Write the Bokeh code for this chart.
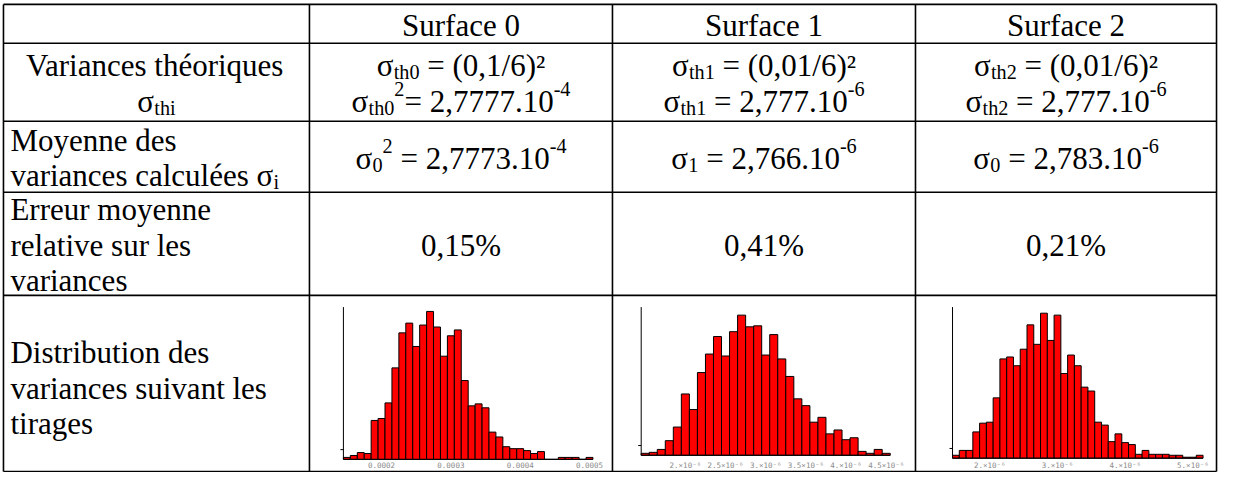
from bokeh.plotting import figure
from bokeh.models import Range1d, ColumnDataSource
from bokeh.core.properties import value, field
from bokeh.embed import file_html
from bokeh.resources import INLINE

# ---------------- data ----------------
col_headers = ["Surface 0", "Surface 1", "Surface 2"]
theo_label = ["Variances théoriques"]
mean_label = ["Moyenne des", "variances calculées "]
err_label = ["Erreur moyenne", "relative sur les", "variances"]
dist_label = ["Distribution des", "variances suivant les", "tirages"]

theo_sub = ["th0", "th1", "th2"]
theo_formula = ["(0,1/6)²", "(0,01/6)²", "(0,01/6)²"]
theo_mant = ["2,7777", "2,777", "2,777"]
theo_exp = ["-4", "-6", "-6"]
theo_squared = [True, False, False]

mean_sub = ["0", "1", "0"]
mean_mant = ["2,7773", "2,766", "2,783"]
mean_exp = ["-4", "-6", "-6"]
mean_squared = [True, False, False]

err_values = ["0,15%", "0,41%", "0,21%"]

# histograms: first bin centre, bin width, counts
h1_first, h1_width = 1.5e-4, 1e-5
h1_counts = [2, 4, 7, 6, 40, 42, 58, 94, 130, 140, 116, 138, 152, 136, 106, 127, 133, 81, 55,
             57, 53, 28, 23, 13, 11, 11, 9, 6, 8, 0, 0, 2, 2, 2, 0, 2]
h1_ticks = [0.0002, 0.0003, 0.0004, 0.0005]
h1_tick_labels = ["0.0002", "0.0003", "0.0004", "0.0005"]

h2_first, h2_width = 1.5e-6, 1e-7
h2_counts = [2, 3, 6, 15, 29, 63, 47, 85, 104, 122, 102, 127, 144, 132, 133, 103, 124, 99, 81,
             58, 51, 34, 39, 22, 26, 16, 18, 4, 2, 6, 2]
h2_ticks = [2e-6, 2.5e-6, 3e-6, 3.5e-6, 4e-6, 4.5e-6]
h2_tick_labels = ["2.×10⁻⁶", "2.5×10⁻⁶", "3.×10⁻⁶", "3.5×10⁻⁶", "4.×10⁻⁶", "4.5×10⁻⁶"]

h3_first, h3_width = 1.5e-6, 1e-7
h3_counts = [3, 8, 8, 27, 36, 37, 62, 102, 104, 95, 112, 137, 117, 149, 121, 147, 87, 106, 95,
             73, 69, 37, 34, 17, 25, 16, 14, 4, 8, 4, 4, 4, 3, 3, 1, 1, 3]
h3_ticks = [2e-6, 3e-6, 4e-6, 5e-6]
h3_tick_labels = ["2.×10⁻⁶", "3.×10⁻⁶", "4.×10⁻⁶", "5.×10⁻⁶"]

# ---------------- layout (reference pixel space) ----------------
W, H = 1218, 472
X0, X1 = 4.0, 1234.0
YT, YB = 3.0, 488.0
SX = W / (X1 - X0)
SY = H / (YB - YT)

col_x = [7, 316, 622, 928, 1232]
row_y = [7, 47, 127, 200, 306, 487]

FS = 31.0
LH = 35.5
SUBF = 0.65
SUBDY = 6.5
SUPDY = -12.0
BASE_FIX = -9.0
FONT = "Liberation Serif"

TNR = {' ': 250, '(': 333, ')': 333, ',': 250, '.': 250, '/': 278, '=': 564, '²': 300, '-': 333,
       '%': 833, 'σ': 550, 'a': 444, 'b': 500, 'c': 444, 'd': 500, 'e': 444, 'é': 444, 'f': 333,
       'g': 500, 'h': 500, 'i': 278, 'j': 278, 'k': 500, 'l': 278, 'm': 778, 'n': 500, 'o': 500,
       'p': 500, 'q': 500, 'r': 333, 's': 389, 't': 278, 'u': 500, 'v': 500, 'w': 722, 'x': 500,
       'y': 500, 'z': 444, 'S': 556, 'V': 722, 'M': 889, 'E': 611, 'D': 722}

p = figure(width=W, height=H, x_range=Range1d(X0, X1), y_range=Range1d(YB, YT),
           output_backend="svg", toolbar_location=None, min_border=0,
           x_axis_location=None, y_axis_location=None)
p.grid.visible = False
p.outline_line_color = None
p.background_fill_color = "white"
p.border_fill_color = "white"

# table lines
sx0, sy0, sx1, sy1 = [], [], [], []
for y in row_y:
    sx0.append(col_x[0]); sx1.append(col_x[-1]); sy0.append(y); sy1.append(y)
for x in col_x:
    sx0.append(x); sx1.append(x); sy0.append(row_y[0]); sy1.append(row_y[-1])
p.segment(x0=sx0, y0=sy0, x1=sx1, y1=sy1, line_color="black", line_width=1.6)

T = dict(x=[], y=[], text=[], size=[])


def tw(t, fs):
    return sum(TNR.get(c, 500) for c in t) / 1000.0 * fs


def put(runs, x, y, align="center"):
    w = sum(tw(t, FS if k == "n" else FS * SUBF) for t, k in runs) / SX
    if align == "center":
        x = x - w / 2
    for t, k in runs:
        fs = FS if k == "n" else FS * SUBF
        dy = 0 if k == "n" else (SUBDY if k == "sub" else SUPDY)
        stripped = t.lstrip(" ")
        x += tw(t[:len(t) - len(stripped)], fs) / SX
        T["x"].append(x)
        T["y"].append(y + dy / SY)
        T["text"].append(stripped)
        T["size"].append("%.1fpx" % fs)
        x += tw(stripped, fs) / SX


def baselines(r, n, center=None):
    cy = (row_y[r] + row_y[r + 1]) / 2 if center is None else center
    return [cy + ((i - (n - 1) / 2) * LH + 0.3375 * FS + BASE_FIX) / SY for i in range(n)]


def ccx(c):
    return (col_x[c] + col_x[c + 1]) / 2


LPAD = 7
# header
b = baselines(0, 1)[0]
for i, h in enumerate(col_headers):
    put([(h, "n")], ccx(i + 1), b)

# row 2: theoretical variances
b2 = baselines(1, 2)
put([(theo_label[0], "n")], ccx(0), b2[0])
put([("σ", "n"), ("thi", "sub")], ccx(0), b2[1])
for i in range(3):
    put([("σ", "n"), (theo_sub[i], "sub"), (" = " + theo_formula[i], "n")], ccx(i + 1), b2[0])
    if theo_squared[i]:
        runs = [("σ", "n"), (theo_sub[i], "sub"), ("2", "sup"), ("= " + theo_mant[i] + ".10", "n"), (theo_exp[i], "sup")]
    else:
        runs = [("σ", "n"), (theo_sub[i], "sub"), (" = " + theo_mant[i] + ".10", "n"), (theo_exp[i], "sup")]
    put(runs, ccx(i + 1), b2[1])

# row 3: mean of computed variances
b3 = baselines(2, 2)
put([(mean_label[0], "n")], col_x[0] + LPAD, b3[0], align="left")
put([(mean_label[1], "n"), ("σ", "n"), ("i", "sub")], col_x[0] + LPAD, b3[1], align="left")
bm = baselines(2, 1)[0]
for i in range(3):
    runs = [("σ", "n"), (mean_sub[i], "sub")]
    if mean_squared[i]:
        runs.append(("2", "sup"))
    runs += [(" = " + mean_mant[i] + ".10", "n"), (mean_exp[i], "sup")]
    put(runs, ccx(i + 1), bm)

# row 4: relative error
b4 = baselines(3, 3)
for j, t in enumerate(err_label):
    put([(t, "n")], col_x[0] + LPAD, b4[j], align="left")
be = baselines(3, 1)[0]
for i in range(3):
    put([(err_values[i], "n")], ccx(i + 1), be)

# row 5: distribution label
b5 = baselines(4, 3, center=400)
for j, t in enumerate(dist_label):
    put([(t, "n")], col_x[0] + LPAD, b5[j], align="left")

src = ColumnDataSource(T)
p.text(x="x", y="y", text="text", source=src, text_font=value(FONT), text_font_size=field("size"),
       text_align="left", text_baseline="alphabetic", text_color="black")


# ---------------- histograms ----------------
def add_hist(name, first, width, counts, ticks, labels, sx_axis, sx_end, base_y, top_y):
    v0 = first - width / 2
    v1 = first + width * (len(counts) - 0.5)
    k = (v1 - v0) / (sx_end - sx_axis)
    p.extra_x_ranges[name] = Range1d(v0 - (sx_axis - X0) * k, v0 + (X1 - sx_axis) * k)
    p.extra_y_ranges[name] = Range1d(base_y - YB, base_y - YT)
    left = [v0 + i * width for i in range(len(counts))]
    right = [l + width for l in left]
    p.quad(left=left, right=right, bottom=0, top=counts, x_range_name=name, y_range_name=name,
           fill_color="#ff0000", line_color="black", line_width=1)
    ymax = base_y - top_y
    p.segment(x0=[v0, v0, v0 - 3 * k], y0=[0, 0, 10], x1=[v0, v1, v0], y1=[ymax, 0, 10],
              x_range_name=name, y_range_name=name, line_color="black", line_width=1)
    ly = base_y - 480.5
    p.text(x=ticks, y=[ly] * len(ticks), text=labels, x_range_name=name, y_range_name=name,
           text_font=value("DejaVu Sans Mono"), text_font_size="7.5px", text_color="#8a8a8a",
           text_align="center", text_baseline="middle")


add_hist("h1", h1_first, h1_width, h1_counts, h1_ticks, h1_tick_labels, 350.3, 602.3, 474.5, 318)
add_hist("h2", h2_first, h2_width, h2_counts, h2_ticks, h2_tick_labels, 651.0, 902.5, 470.3, 318)
add_hist("h3", h3_first, h3_width, h3_counts, h3_ticks, h3_tick_labels, 965.4, 1218.4, 473.3, 318)

open("out.html", "w").write(file_html(p, INLINE))
